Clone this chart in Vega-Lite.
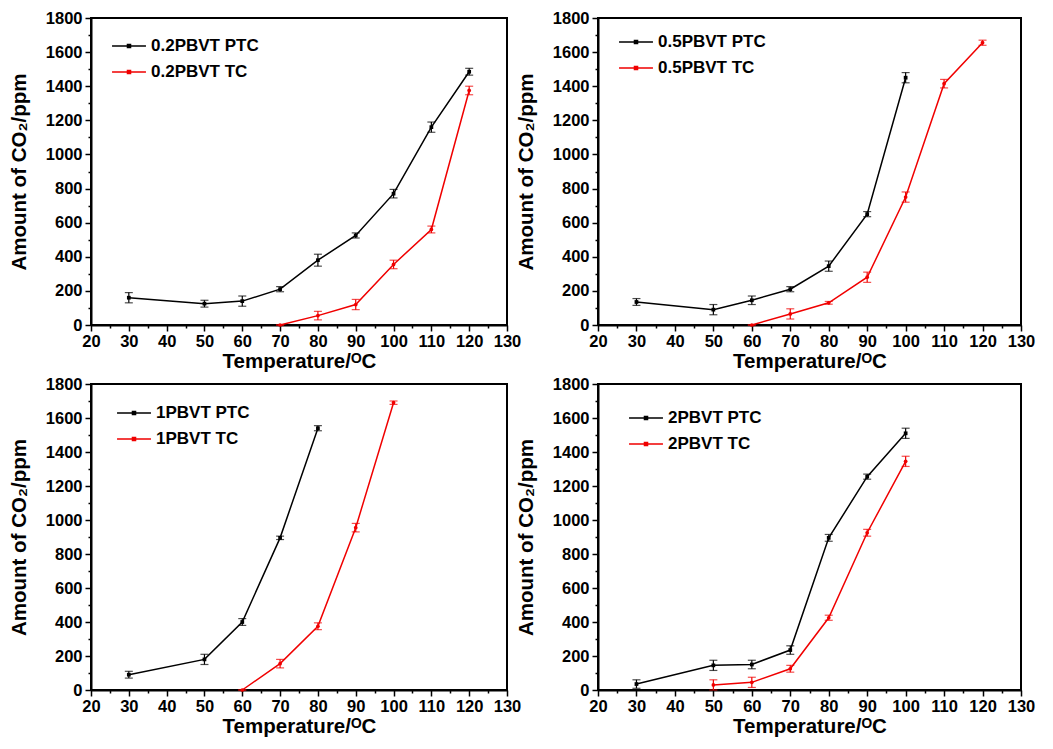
{
  "$schema": "https://vega.github.io/schema/vega-lite/v6.json",
  "padding": {"top": 9, "left": 8, "right": 0, "bottom": 0},
  "background": "white",
  "data": {"name": "d"},
  "datasets": {
    "d": [
      {"p": "a", "s": "0.2PBVT PTC", "x": 30, "y": 160, "lo": 130, "hi": 190},
      {"p": "a", "s": "0.2PBVT PTC", "x": 50, "y": 125, "lo": 105, "hi": 145},
      {"p": "a", "s": "0.2PBVT PTC", "x": 60, "y": 140, "lo": 110, "hi": 170},
      {"p": "a", "s": "0.2PBVT PTC", "x": 70, "y": 210, "lo": 195, "hi": 225},
      {"p": "a", "s": "0.2PBVT PTC", "x": 80, "y": 380, "lo": 345, "hi": 415},
      {"p": "a", "s": "0.2PBVT PTC", "x": 90, "y": 525, "lo": 510, "hi": 540},
      {"p": "a", "s": "0.2PBVT PTC", "x": 100, "y": 770, "lo": 745, "hi": 795},
      {"p": "a", "s": "0.2PBVT PTC", "x": 110, "y": 1160, "lo": 1130, "hi": 1190},
      {"p": "a", "s": "0.2PBVT PTC", "x": 120, "y": 1485, "lo": 1465, "hi": 1505},
      {"p": "a", "s": "0.2PBVT TC", "x": 70, "y": 0, "lo": 0, "hi": 0},
      {"p": "a", "s": "0.2PBVT TC", "x": 80, "y": 55, "lo": 30, "hi": 80},
      {"p": "a", "s": "0.2PBVT TC", "x": 90, "y": 120, "lo": 90, "hi": 150},
      {"p": "a", "s": "0.2PBVT TC", "x": 100, "y": 355, "lo": 330, "hi": 380},
      {"p": "a", "s": "0.2PBVT TC", "x": 110, "y": 560, "lo": 540, "hi": 580},
      {"p": "a", "s": "0.2PBVT TC", "x": 120, "y": 1375, "lo": 1350, "hi": 1400},

      {"p": "b", "s": "0.5PBVT PTC", "x": 30, "y": 135, "lo": 115, "hi": 155},
      {"p": "b", "s": "0.5PBVT PTC", "x": 50, "y": 90, "lo": 60, "hi": 120},
      {"p": "b", "s": "0.5PBVT PTC", "x": 60, "y": 145, "lo": 120, "hi": 170},
      {"p": "b", "s": "0.5PBVT PTC", "x": 70, "y": 210, "lo": 195, "hi": 225},
      {"p": "b", "s": "0.5PBVT PTC", "x": 80, "y": 345, "lo": 315, "hi": 375},
      {"p": "b", "s": "0.5PBVT PTC", "x": 90, "y": 650, "lo": 635, "hi": 665},
      {"p": "b", "s": "0.5PBVT PTC", "x": 100, "y": 1450, "lo": 1420, "hi": 1480},
      {"p": "b", "s": "0.5PBVT TC", "x": 60, "y": 0, "lo": 0, "hi": 0},
      {"p": "b", "s": "0.5PBVT TC", "x": 70, "y": 65, "lo": 35, "hi": 95},
      {"p": "b", "s": "0.5PBVT TC", "x": 80, "y": 130, "lo": 122, "hi": 138},
      {"p": "b", "s": "0.5PBVT TC", "x": 90, "y": 280, "lo": 250, "hi": 310},
      {"p": "b", "s": "0.5PBVT TC", "x": 100, "y": 750, "lo": 720, "hi": 780},
      {"p": "b", "s": "0.5PBVT TC", "x": 110, "y": 1415, "lo": 1390, "hi": 1440},
      {"p": "b", "s": "0.5PBVT TC", "x": 120, "y": 1655, "lo": 1640, "hi": 1670},

      {"p": "c", "s": "1PBVT PTC", "x": 30, "y": 90, "lo": 70, "hi": 110},
      {"p": "c", "s": "1PBVT PTC", "x": 50, "y": 180, "lo": 150, "hi": 210},
      {"p": "c", "s": "1PBVT PTC", "x": 60, "y": 400, "lo": 380, "hi": 420},
      {"p": "c", "s": "1PBVT PTC", "x": 70, "y": 895, "lo": 885, "hi": 905},
      {"p": "c", "s": "1PBVT PTC", "x": 80, "y": 1540, "lo": 1525, "hi": 1555},
      {"p": "c", "s": "1PBVT TC", "x": 60, "y": 0, "lo": 0, "hi": 0},
      {"p": "c", "s": "1PBVT TC", "x": 70, "y": 155, "lo": 130, "hi": 180},
      {"p": "c", "s": "1PBVT TC", "x": 80, "y": 375, "lo": 355, "hi": 395},
      {"p": "c", "s": "1PBVT TC", "x": 90, "y": 955, "lo": 930, "hi": 980},
      {"p": "c", "s": "1PBVT TC", "x": 100, "y": 1690, "lo": 1680, "hi": 1700},

      {"p": "d", "s": "2PBVT PTC", "x": 30, "y": 35, "lo": 10, "hi": 60},
      {"p": "d", "s": "2PBVT PTC", "x": 50, "y": 145, "lo": 115, "hi": 175},
      {"p": "d", "s": "2PBVT PTC", "x": 60, "y": 150, "lo": 125, "hi": 175},
      {"p": "d", "s": "2PBVT PTC", "x": 70, "y": 235, "lo": 210, "hi": 260},
      {"p": "d", "s": "2PBVT PTC", "x": 80, "y": 895, "lo": 875, "hi": 915},
      {"p": "d", "s": "2PBVT PTC", "x": 90, "y": 1255, "lo": 1240, "hi": 1270},
      {"p": "d", "s": "2PBVT PTC", "x": 100, "y": 1510, "lo": 1480, "hi": 1540},
      {"p": "d", "s": "2PBVT TC", "x": 50, "y": 30, "lo": 0, "hi": 60},
      {"p": "d", "s": "2PBVT TC", "x": 60, "y": 45, "lo": 15, "hi": 75},
      {"p": "d", "s": "2PBVT TC", "x": 70, "y": 125, "lo": 105, "hi": 145},
      {"p": "d", "s": "2PBVT TC", "x": 80, "y": 425, "lo": 410, "hi": 440},
      {"p": "d", "s": "2PBVT TC", "x": 90, "y": 925, "lo": 905, "hi": 945},
      {"p": "d", "s": "2PBVT TC", "x": 100, "y": 1345, "lo": 1315, "hi": 1375}
    ]
  },
  "config": {
    "font": "Liberation Sans",
    "view": {"stroke": "#000000", "strokeWidth": 2},
    "axis": {
      "domainColor": "#000000", "domainWidth": 2,
      "tickColor": "#000000", "tickWidth": 1.5,
      "labelFont": "Liberation Sans", "labelFontWeight": "bold", "labelFontSize": 16.5, "labelColor": "#000000",
      "titleFont": "Liberation Sans", "titleFontWeight": "bold", "titleFontSize": 20.5, "titleColor": "#000000",
      "grid": false, "labelOverlap": false, "labelFlush": false
    },
    "legend": {
      "labelFont": "Liberation Sans", "labelFontWeight": "bold", "labelFontSize": 17, "labelColor": "#000000",
      "symbolStrokeWidth": 1.5, "padding": 0, "rowPadding": -6, "labelOffset": 4
    },
    "line": {"strokeWidth": 1.5}
  },
  "columns": 2,
  "spacing": {"row": 2, "column": -7},
  "resolve": {"scale": {"color": "independent", "shape": "independent"}, "legend": {"color": "independent"}},
  "concat": [
    {
      "width": 416, "height": 307,
      "transform": [{"filter": "datum.p === 'a'"}],
      "encoding": {
        "x": {"field": "x", "type": "quantitative", "scale": {"domain": [20, 130], "nice": false},
          "axis": {"title": "Temperature/ᴼC", "format": "d", "values": [20,25,30,35,40,45,50,55,60,65,70,75,80,85,90,95,100,105,110,115,120,125,130],
            "labelExpr": "datum.value % 10 === 0 ? datum.label : ''", "tickSize": {"condition": {"test": "datum.value % 10 === 0", "value": 6}, "value": 3}, "labelPadding": 2, "titlePadding": 2}},
        "y": {"field": "y", "type": "quantitative", "scale": {"domain": [0, 1800], "nice": false},
          "axis": {"title": "Amount of CO₂/ppm", "format": "d", "values": [0,100,200,300,400,500,600,700,800,900,1000,1100,1200,1300,1400,1500,1600,1700,1800],
            "labelExpr": "datum.value % 200 === 0 ? datum.label : ''", "tickSize": {"condition": {"test": "datum.value % 200 === 0", "value": 6}, "value": 3}, "labelPadding": 3, "titlePadding": 16}},
        "color": {"field": "s", "type": "nominal", "scale": {"domain": ["0.2PBVT PTC", "0.2PBVT TC"], "range": ["#000000", "#f00000"]},
          "legend": {"title": null, "orient": "none", "legendX": 20, "legendY": 10, "symbolType": "M-1,0L1,0M-0.09,-0.09L0.09,-0.09L0.09,0.09L-0.09,0.09Z", "symbolSize": 1150}}
      },
      "layer": [
        {"mark": {"type": "line"}},
        {"mark": {"type": "rule", "strokeWidth": 1.2}, "encoding": {"y": {"field": "lo", "type": "quantitative"}, "y2": {"field": "hi"}, "color": {"field": "s", "type": "nominal", "legend": null}}},
        {"mark": {"type": "tick", "orient": "horizontal", "size": 8, "thickness": 1.2}, "encoding": {"y": {"field": "lo", "type": "quantitative"}, "color": {"field": "s", "type": "nominal", "legend": null}}},
        {"mark": {"type": "tick", "orient": "horizontal", "size": 8, "thickness": 1.2}, "encoding": {"y": {"field": "hi", "type": "quantitative"}, "color": {"field": "s", "type": "nominal", "legend": null}}},
        {"mark": {"type": "point", "filled": true, "size": 14, "opacity": 1}, "encoding": {"shape": {"field": "s", "type": "nominal", "scale": {"range": ["square", "circle"]}, "legend": null}, "color": {"field": "s", "type": "nominal", "legend": null}}}
      ]
    },
    {
      "width": 423, "height": 307,
      "transform": [{"filter": "datum.p === 'b'"}],
      "encoding": {
        "x": {"field": "x", "type": "quantitative", "scale": {"domain": [20, 130], "nice": false},
          "axis": {"title": "Temperature/ᴼC", "format": "d", "values": [20,25,30,35,40,45,50,55,60,65,70,75,80,85,90,95,100,105,110,115,120,125,130],
            "labelExpr": "datum.value % 10 === 0 ? datum.label : ''", "tickSize": {"condition": {"test": "datum.value % 10 === 0", "value": 6}, "value": 3}, "labelPadding": 2, "titlePadding": 2}},
        "y": {"field": "y", "type": "quantitative", "scale": {"domain": [0, 1800], "nice": false},
          "axis": {"title": "Amount of CO₂/ppm", "format": "d", "values": [0,100,200,300,400,500,600,700,800,900,1000,1100,1200,1300,1400,1500,1600,1700,1800],
            "labelExpr": "datum.value % 200 === 0 ? datum.label : ''", "tickSize": {"condition": {"test": "datum.value % 200 === 0", "value": 6}, "value": 3}, "labelPadding": 3, "titlePadding": 16}},
        "color": {"field": "s", "type": "nominal", "scale": {"domain": ["0.5PBVT PTC", "0.5PBVT TC"], "range": ["#000000", "#f00000"]},
          "legend": {"title": null, "orient": "none", "legendX": 20, "legendY": 6, "symbolType": "M-1,0L1,0M-0.09,-0.09L0.09,-0.09L0.09,0.09L-0.09,0.09Z", "symbolSize": 1150}}
      },
      "layer": [
        {"mark": {"type": "line"}},
        {"mark": {"type": "rule", "strokeWidth": 1.2}, "encoding": {"y": {"field": "lo", "type": "quantitative"}, "y2": {"field": "hi"}, "color": {"field": "s", "type": "nominal", "legend": null}}},
        {"mark": {"type": "tick", "orient": "horizontal", "size": 8, "thickness": 1.2}, "encoding": {"y": {"field": "lo", "type": "quantitative"}, "color": {"field": "s", "type": "nominal", "legend": null}}},
        {"mark": {"type": "tick", "orient": "horizontal", "size": 8, "thickness": 1.2}, "encoding": {"y": {"field": "hi", "type": "quantitative"}, "color": {"field": "s", "type": "nominal", "legend": null}}},
        {"mark": {"type": "point", "filled": true, "size": 14, "opacity": 1}, "encoding": {"shape": {"field": "s", "type": "nominal", "scale": {"range": ["square", "circle"]}, "legend": null}, "color": {"field": "s", "type": "nominal", "legend": null}}}
      ]
    },
    {
      "width": 416, "height": 306,
      "transform": [{"filter": "datum.p === 'c'"}],
      "encoding": {
        "x": {"field": "x", "type": "quantitative", "scale": {"domain": [20, 130], "nice": false},
          "axis": {"title": "Temperature/ᴼC", "format": "d", "values": [20,25,30,35,40,45,50,55,60,65,70,75,80,85,90,95,100,105,110,115,120,125,130],
            "labelExpr": "datum.value % 10 === 0 ? datum.label : ''", "tickSize": {"condition": {"test": "datum.value % 10 === 0", "value": 6}, "value": 3}, "labelPadding": 2, "titlePadding": 2}},
        "y": {"field": "y", "type": "quantitative", "scale": {"domain": [0, 1800], "nice": false},
          "axis": {"title": "Amount of CO₂/ppm", "format": "d", "values": [0,100,200,300,400,500,600,700,800,900,1000,1100,1200,1300,1400,1500,1600,1700,1800],
            "labelExpr": "datum.value % 200 === 0 ? datum.label : ''", "tickSize": {"condition": {"test": "datum.value % 200 === 0", "value": 6}, "value": 3}, "labelPadding": 3, "titlePadding": 16}},
        "color": {"field": "s", "type": "nominal", "scale": {"domain": ["1PBVT PTC", "1PBVT TC"], "range": ["#000000", "#f00000"]},
          "legend": {"title": null, "orient": "none", "legendX": 25, "legendY": 11, "symbolType": "M-1,0L1,0M-0.09,-0.09L0.09,-0.09L0.09,0.09L-0.09,0.09Z", "symbolSize": 1150}}
      },
      "layer": [
        {"mark": {"type": "line"}},
        {"mark": {"type": "rule", "strokeWidth": 1.2}, "encoding": {"y": {"field": "lo", "type": "quantitative"}, "y2": {"field": "hi"}, "color": {"field": "s", "type": "nominal", "legend": null}}},
        {"mark": {"type": "tick", "orient": "horizontal", "size": 8, "thickness": 1.2}, "encoding": {"y": {"field": "lo", "type": "quantitative"}, "color": {"field": "s", "type": "nominal", "legend": null}}},
        {"mark": {"type": "tick", "orient": "horizontal", "size": 8, "thickness": 1.2}, "encoding": {"y": {"field": "hi", "type": "quantitative"}, "color": {"field": "s", "type": "nominal", "legend": null}}},
        {"mark": {"type": "point", "filled": true, "size": 14, "opacity": 1}, "encoding": {"shape": {"field": "s", "type": "nominal", "scale": {"range": ["square", "circle"]}, "legend": null}, "color": {"field": "s", "type": "nominal", "legend": null}}}
      ]
    },
    {
      "width": 423, "height": 306,
      "transform": [{"filter": "datum.p === 'd'"}],
      "encoding": {
        "x": {"field": "x", "type": "quantitative", "scale": {"domain": [20, 130], "nice": false},
          "axis": {"title": "Temperature/ᴼC", "format": "d", "values": [20,25,30,35,40,45,50,55,60,65,70,75,80,85,90,95,100,105,110,115,120,125,130],
            "labelExpr": "datum.value % 10 === 0 ? datum.label : ''", "tickSize": {"condition": {"test": "datum.value % 10 === 0", "value": 6}, "value": 3}, "labelPadding": 2, "titlePadding": 2}},
        "y": {"field": "y", "type": "quantitative", "scale": {"domain": [0, 1800], "nice": false},
          "axis": {"title": "Amount of CO₂/ppm", "format": "d", "values": [0,100,200,300,400,500,600,700,800,900,1000,1100,1200,1300,1400,1500,1600,1700,1800],
            "labelExpr": "datum.value % 200 === 0 ? datum.label : ''", "tickSize": {"condition": {"test": "datum.value % 200 === 0", "value": 6}, "value": 3}, "labelPadding": 3, "titlePadding": 16}},
        "color": {"field": "s", "type": "nominal", "scale": {"domain": ["2PBVT PTC", "2PBVT TC"], "range": ["#000000", "#f00000"]},
          "legend": {"title": null, "orient": "none", "legendX": 30, "legendY": 16, "symbolType": "M-1,0L1,0M-0.09,-0.09L0.09,-0.09L0.09,0.09L-0.09,0.09Z", "symbolSize": 1150}}
      },
      "layer": [
        {"mark": {"type": "line"}},
        {"mark": {"type": "rule", "strokeWidth": 1.2}, "encoding": {"y": {"field": "lo", "type": "quantitative"}, "y2": {"field": "hi"}, "color": {"field": "s", "type": "nominal", "legend": null}}},
        {"mark": {"type": "tick", "orient": "horizontal", "size": 8, "thickness": 1.2}, "encoding": {"y": {"field": "lo", "type": "quantitative"}, "color": {"field": "s", "type": "nominal", "legend": null}}},
        {"mark": {"type": "tick", "orient": "horizontal", "size": 8, "thickness": 1.2}, "encoding": {"y": {"field": "hi", "type": "quantitative"}, "color": {"field": "s", "type": "nominal", "legend": null}}},
        {"mark": {"type": "point", "filled": true, "size": 14, "opacity": 1}, "encoding": {"shape": {"field": "s", "type": "nominal", "scale": {"range": ["square", "circle"]}, "legend": null}, "color": {"field": "s", "type": "nominal", "legend": null}}}
      ]
    }
  ]
}
